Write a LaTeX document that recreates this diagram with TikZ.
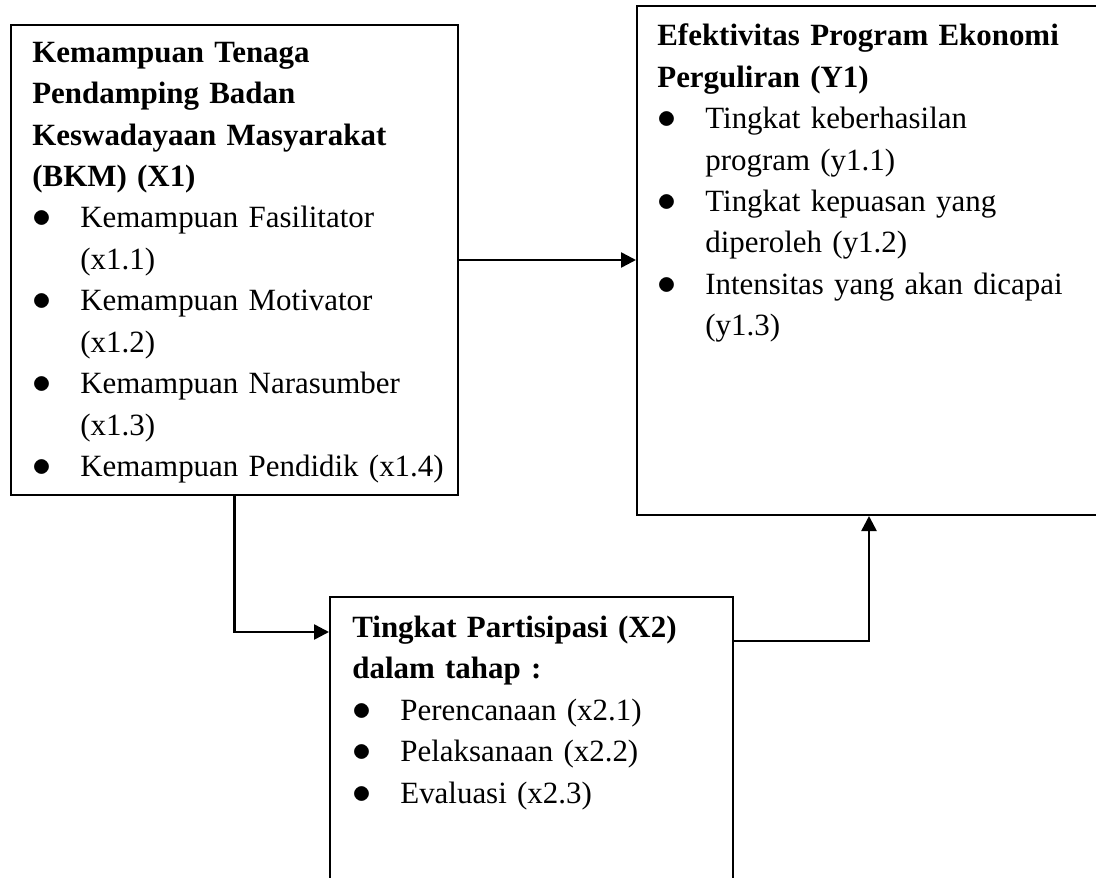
\documentclass[tikz,border=0pt]{standalone}
\usepackage{fontspec}
\setmainfont{Liberation Serif}
\usetikzlibrary{arrows.meta}

\newcommand{\butir}[1]{\makebox[0.96cm][l]{\scalebox{1.25}{$\bullet$}}#1}
\newcommand{\lanjut}[1]{\hspace*{0.96cm}#1}

\tikzset{
    kotak/.style={draw, line width=0.04cm, anchor=north west, inner sep=0pt},
    isi/.style={anchor=north west, inner sep=0pt, align=left,
        font=\fontsize{17.6pt}{23.6pt}\selectfont},
    panah/.style={line width=0.05cm, -{Triangle[length=0.3cm,width=0.3cm]}}
}

\begin{document}
\begin{tikzpicture}
            \useasboundingbox (0,0) rectangle (21.92,-17.56);
            \clip (0,0) rectangle (21.92,-17.56);

            \node[kotak, minimum width=8.94cm, minimum height=9.40cm] (x1) at (0.2,-0.48) {};
            \node[isi, text width=8.4cm] (x1t) at (0.64,-0.83) {%
                \textbf{Kemampuan Tenaga}\\
                \textbf{Pendamping Badan}\\
                \textbf{Keswadayaan Masyarakat}\\
                \textbf{(BKM) (X1)}\\
                \butir{Kemampuan Fasilitator}\\
                \lanjut{(x1.1)}\\
                \butir{Kemampuan Motivator}\\
                \lanjut{(x1.2)}\\
                \butir{Kemampuan Narasumber}\\
                \lanjut{(x1.3)}\\
                \butir{Kemampuan Pendidik (x1.4)}};

            \node[kotak, minimum width=9.4cm, minimum height=10.18cm] (y1) at (12.72,-0.10) {};
            \node[isi, text width=8.8cm] (y1t) at (13.14,-0.47) {%
                \textbf{Efektivitas Program Ekonomi}\\
                \textbf{Perguliran (Y1)}\\
                \butir{Tingkat keberhasilan}\\
                \lanjut{program (y1.1)}\\
                \butir{Tingkat kepuasan yang}\\
                \lanjut{diperoleh (y1.2)}\\
                \butir{Intensitas yang akan dicapai}\\
                \lanjut{(y1.3)}};

            \node[kotak, minimum width=8.06cm, minimum height=6.2cm] (x2) at (6.58,-11.92) {};
            \node[isi, text width=7.6cm] (x2t) at (7.04,-12.31) {%
                \textbf{Tingkat Partisipasi (X2)}\\
                \textbf{dalam tahap :}\\
                \butir{Perencanaan (x2.1)}\\
                \butir{Pelaksanaan (x2.2)}\\
                \butir{Evaluasi (x2.3)}};

            \coordinate (masukx2) at ([yshift=-0.72cm]x2.north west);
            \coordinate (keluarx2) at ([yshift=-0.90cm]x2.north east);

            \draw[panah] (x1.east) -- (x1.east -| y1.west);
            \draw[panah] (x1.south) |- (masukx2);
            \draw[panah] (keluarx2) -| ([xshift=-0.06cm]y1.south);
\end{tikzpicture}
\end{document}
